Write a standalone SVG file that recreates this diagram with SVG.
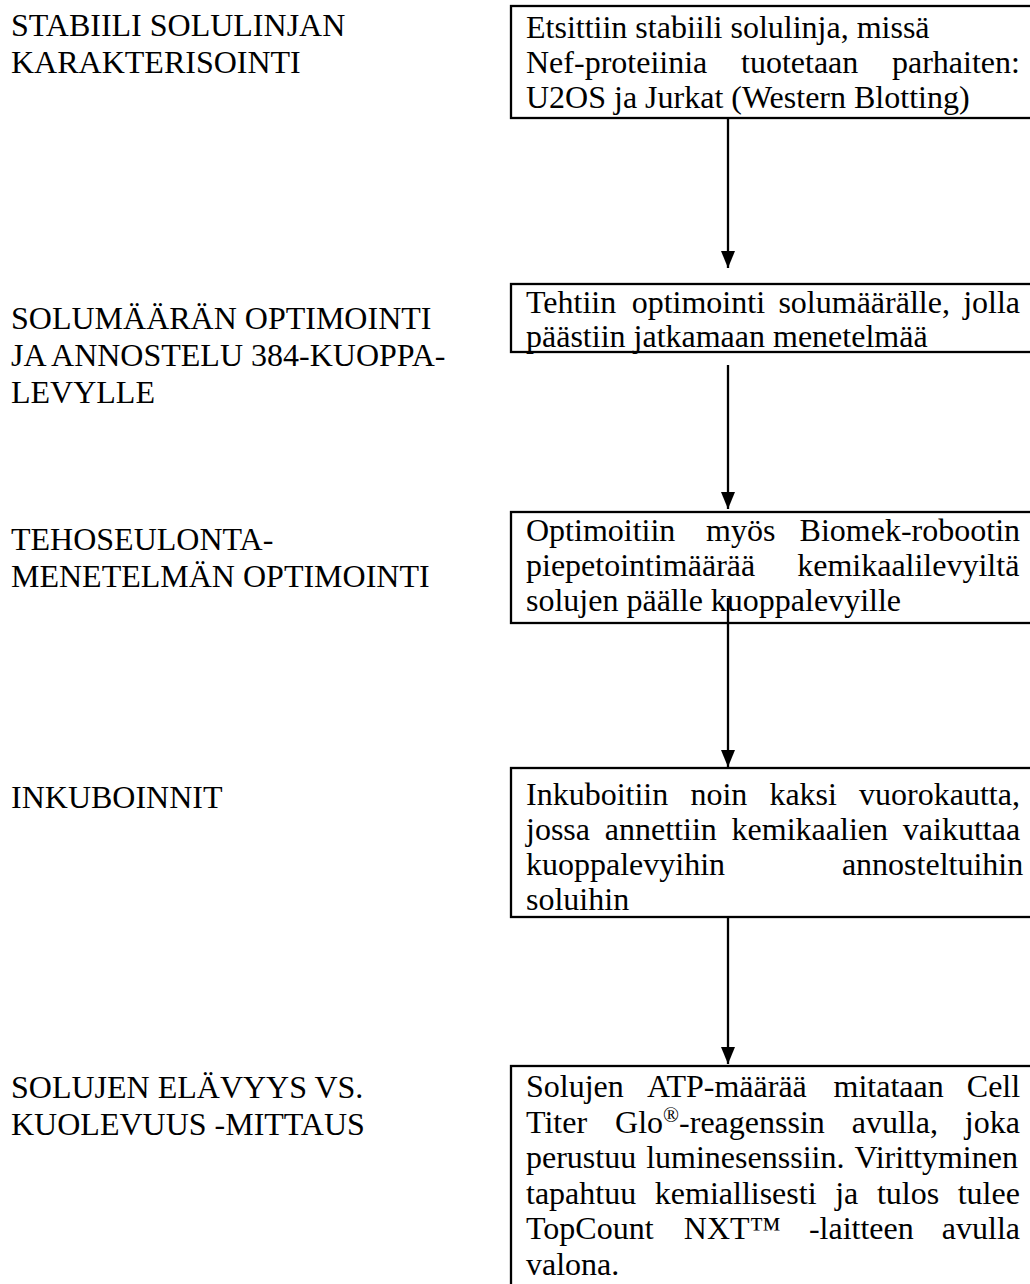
<svg xmlns="http://www.w3.org/2000/svg" width="1030" height="1284" viewBox="0 0 1030 1284">
<defs>
<style>
text{font-family:"Liberation Serif","Times New Roman",serif;font-size:32px;fill:#000}
.box{fill:#fff;stroke:#000;stroke-width:2.3}
.conn{stroke:#000;stroke-width:2.3;fill:none}
.sup{font-size:21px}
</style>
<marker id="ah" markerUnits="userSpaceOnUse" markerWidth="18" markerHeight="16" viewBox="0 0 18 16" refX="17" refY="8" orient="auto">
<path d="M0,1 L17,8 L0,15 Z" fill="#000"/>
</marker>
</defs>
<rect width="1030" height="1284" fill="#fff"/>

<g id="labels">
<text x="11" y="36">STABIILI SOLULINJAN</text>
<text x="11" y="73">KARAKTERISOINTI</text>
<text x="11" y="329">SOLUMÄÄRÄN OPTIMOINTI</text>
<text x="11" y="366">JA ANNOSTELU 384-KUOPPA-</text>
<text x="11" y="403">LEVYLLE</text>
<text x="11" y="550">TEHOSEULONTA-</text>
<text x="11" y="587">MENETELMÄN OPTIMOINTI</text>
<text x="11" y="808">INKUBOINNIT</text>
<text x="11" y="1098">SOLUJEN ELÄVYYS VS.</text>
<text x="11" y="1135">KUOLEVUUS -MITTAUS</text>
</g>

<g id="node1">
<rect class="box" x="511" y="6" width="530" height="112"/>
<text x="526" y="38">Etsittiin stabiili solulinja, missä</text>
<text y="73"><tspan x="526">Nef-proteiinia</tspan><tspan x="741">tuotetaan</tspan><tspan x="892">parhaiten:</tspan></text>
<text x="526" y="108">U2OS ja Jurkat (Western Blotting)</text>
</g>

<g id="node2">
<rect class="box" x="511" y="284" width="530" height="68"/>
<text y="313"><tspan x="526">Tehtiin</tspan><tspan x="631.7">optimointi</tspan><tspan x="778.4">solumäärälle,</tspan><tspan x="963.2">jolla</tspan></text>
<text x="526" y="347">päästiin jatkamaan menetelmää</text>
</g>

<g id="node3">
<rect class="box" x="511" y="512" width="530" height="111"/>
<text y="541"><tspan x="526">Optimoitiin</tspan><tspan x="706">myös</tspan><tspan x="799.6">Biomek-robootin</tspan></text>
<text y="576"><tspan x="526">piepetointimäärää</tspan><tspan x="797.2">kemikaalilevyiltä</tspan></text>
<text x="526" y="611">solujen päälle kuoppalevyille</text>
</g>

<g id="node4">
<rect class="box" x="511" y="768" width="530" height="149"/>
<text y="805"><tspan x="526">Inkuboitiin</tspan><tspan x="690.4">noin</tspan><tspan x="769.4">kaksi</tspan><tspan x="859.1">vuorokautta,</tspan></text>
<text y="840"><tspan x="526">jossa</tspan><tspan x="604.8">annettiin</tspan><tspan x="731.6">kemikaalien</tspan><tspan x="902.8">vaikuttaa</tspan></text>
<text y="875"><tspan x="526">kuoppalevyihin</tspan><tspan x="841.9">annosteltuihin</tspan></text>
<text x="526" y="910">soluihin</text>
</g>

<g id="node5">
<rect class="box" x="511" y="1066" width="530" height="240"/>
<text y="1097"><tspan x="526">Solujen</tspan><tspan x="646.9">ATP-määrää</tspan><tspan x="833.5">mitataan</tspan><tspan x="966.8">Cell</tspan></text>
<text y="1132.5"><tspan x="526">Titer</tspan><tspan x="615.1">Glo</tspan><tspan class="sup" x="663.1" dy="-11">®</tspan><tspan x="679.1" dy="11">-reagenssin</tspan><tspan x="851.7">avulla,</tspan><tspan x="964.8">joka</tspan></text>
<text y="1168"><tspan x="526">perustuu</tspan><tspan x="646.2">luminesenssiin.</tspan><tspan x="854.5">Virittyminen</tspan></text>
<text y="1203.5"><tspan x="526">tapahtuu</tspan><tspan x="654.8">kemiallisesti</tspan><tspan x="835.2">ja</tspan><tspan x="876.9">tulos</tspan><tspan x="957.7">tulee</tspan></text>
<text y="1239"><tspan x="526">TopCount</tspan><tspan x="683.8">NXT™</tspan><tspan x="808.9">-laitteen</tspan><tspan x="941.8">avulla</tspan></text>
<text x="526" y="1274.5">valona.</text>
</g>

<g id="connectors">
<line class="conn" x1="728" y1="119" x2="728" y2="268" marker-end="url(#ah)"/>
<line class="conn" x1="728" y1="365" x2="728" y2="509" marker-end="url(#ah)"/>
<line class="conn" x1="728" y1="598" x2="728" y2="767" marker-end="url(#ah)"/>
<line class="conn" x1="728" y1="918" x2="728" y2="1064" marker-end="url(#ah)"/>
</g>
</svg>
